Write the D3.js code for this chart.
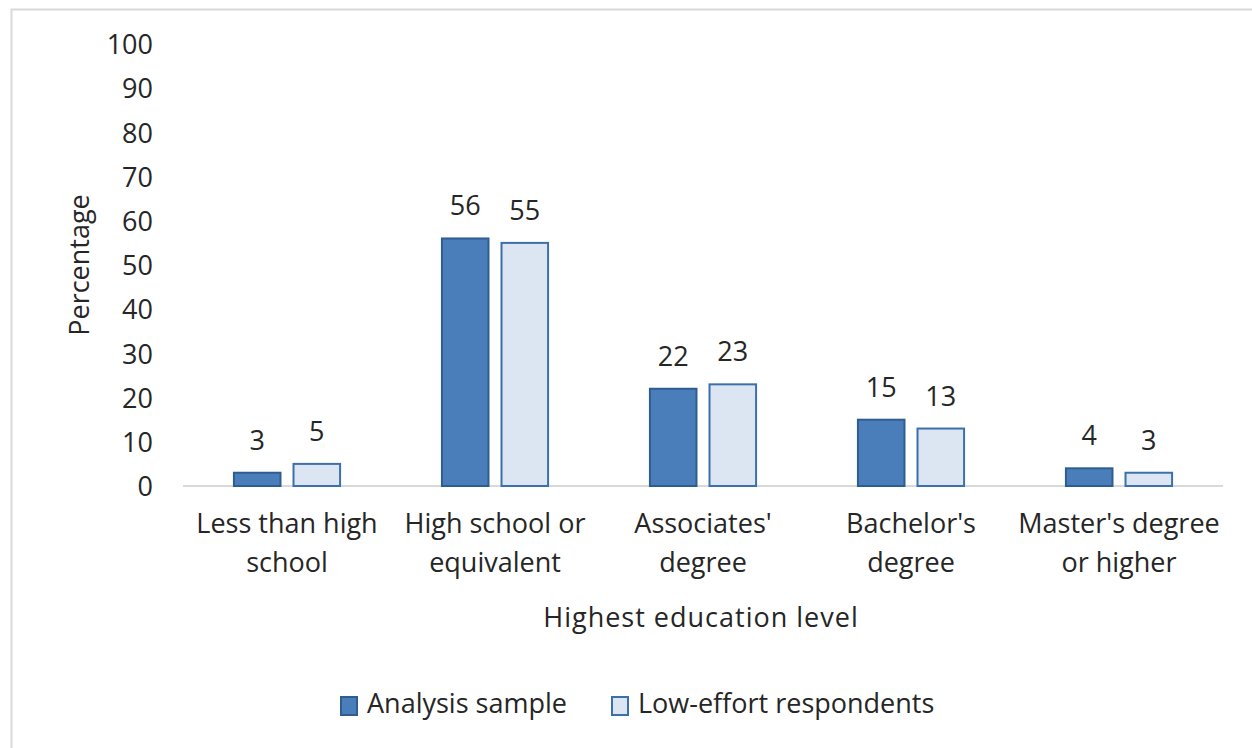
<!DOCTYPE html>
<html>
<head>
<meta charset="utf-8">
<script src="https://cdn.jsdelivr.net/npm/d3@7"></script>
<style>
  html, body { margin: 0; padding: 0; background: #fff; }
  svg text { font-family: "Open Sans", "Noto Sans", sans-serif; fill: #262626; }
</style>
</head>
<body>
<svg id="chart" width="1252" height="748"></svg>
<script>
// Education level categories (two-line labels)
const categories = [
  ["Less than high", "school"],
  ["High school or", "equivalent"],
  ["Associates'", "degree"],
  ["Bachelor's", "degree"],
  ["Master's degree", "or higher"]
];
const seriesNames = ["Analysis sample", "Low-effort respondents"];
const analysisSample = [3, 56, 22, 15, 4];
const lowEffort = [5, 55, 23, 13, 3];
const yTicks = [0, 10, 20, 30, 40, 50, 60, 70, 80, 90, 100];

const seriesValues = [analysisSample, lowEffort];
const fills = ["#4a7ebb", "#dce6f2"];
const strokes = ["#2f5d8f", "#3c70aa"];

const svg = d3.select("#chart");
const W = 1252, H = 748;
const FS = 27;

// outer chart frame
svg.append("rect")
  .attr("x", 11.5).attr("y", 9.5)
  .attr("width", W).attr("height", H)
  .attr("fill", "#fff").attr("stroke", "#d9d9d9").attr("stroke-width", 2);

const plot = { left: 183, right: 1223, top: 44, bottom: 486 };

const catKeys = categories.map((c, i) => i);
const x0 = d3.scaleBand()
  .domain(catKeys)
  .range([plot.left, plot.right])
  .paddingInner(0.48)
  .paddingOuter(0.24);
const x1 = d3.scaleBand()
  .domain([0, 1])
  .range([0, x0.bandwidth()])
  .paddingInner(0.185);
const y = d3.scaleLinear().domain([0, 100]).range([plot.bottom, plot.top]);

// y axis labels only (no line, no ticks)
const yAxis = d3.axisLeft(y).tickValues(yTicks).tickSize(0).tickPadding(0);
const yg = svg.append("g").attr("transform", `translate(${plot.left - 30},0)`).call(yAxis);
yg.select(".domain").remove();
yg.selectAll("text")
  .attr("font-size", FS)
  .attr("dy", "0.36em")
  .style("font-family", '"Open Sans", sans-serif')
  .attr("fill", "#262626");

// baseline
svg.append("line")
  .attr("x1", plot.left).attr("x2", plot.right)
  .attr("y1", y(0)).attr("y2", y(0))
  .attr("stroke", "#d9d9d9").attr("stroke-width", 2);

// bars
const groups = svg.append("g").selectAll("g")
  .data(catKeys)
  .join("g")
  .attr("transform", d => `translate(${x0(d)},0)`);

groups.selectAll("rect")
  .data(ci => seriesValues.map((vals, si) => ({ si, v: vals[ci] })))
  .join("rect")
  .attr("x", d => x1(d.si) + 1)
  .attr("width", x1.bandwidth() - 2)
  .attr("y", d => y(d.v))
  .attr("height", d => y(0) - y(d.v))
  .attr("fill", d => fills[d.si])
  .attr("stroke", d => strokes[d.si])
  .attr("stroke-width", 2);

// value labels
groups.selectAll("text.val")
  .data(ci => seriesValues.map((vals, si) => ({ si, v: vals[ci] })))
  .join("text")
  .attr("class", "val")
  .attr("x", d => x1(d.si) + x1.bandwidth() / 2)
  .attr("y", d => y(d.v) - 23)
  .attr("text-anchor", "middle")
  .attr("font-size", FS)
  .text(d => d.v);

// category labels
const xl = svg.append("g").selectAll("text")
  .data(categories)
  .join("text")
  .attr("text-anchor", "middle")
  .attr("font-size", FS)
  .attr("x", (d, i) => x0(i) + x0.bandwidth() / 2)
  .attr("y", 533);
xl.selectAll("tspan")
  .data(d => d)
  .join("tspan")
  .attr("x", function() { return d3.select(this.parentNode).attr("x"); })
  .attr("dy", (d, i) => i === 0 ? 0 : 39)
  .text(d => d);

// axis titles
svg.append("text")
  .attr("x", 701)
  .attr("y", 627)
  .attr("text-anchor", "middle")
  .attr("font-size", FS)
  .attr("letter-spacing", 1)
  .text("Highest education level");

svg.append("text")
  .attr("transform", `translate(89,265) rotate(-90)`)
  .attr("text-anchor", "middle")
  .attr("font-size", FS)
  .text("Percentage");

// legend
const legendItems = [
  { name: seriesNames[0], x: 341 },
  { name: seriesNames[1], x: 612 }
];
const lg = svg.append("g").selectAll("g")
  .data(legendItems)
  .join("g")
  .attr("transform", d => `translate(${d.x},697)`);
lg.append("rect")
  .attr("width", 16).attr("height", 18)
  .attr("fill", (d, i) => fills[i])
  .attr("stroke", (d, i) => strokes[i])
  .attr("stroke-width", 2);
lg.append("text")
  .attr("x", 26).attr("y", 16)
  .attr("font-size", FS)
  .text(d => d.name);
</script>
</body>
</html>
